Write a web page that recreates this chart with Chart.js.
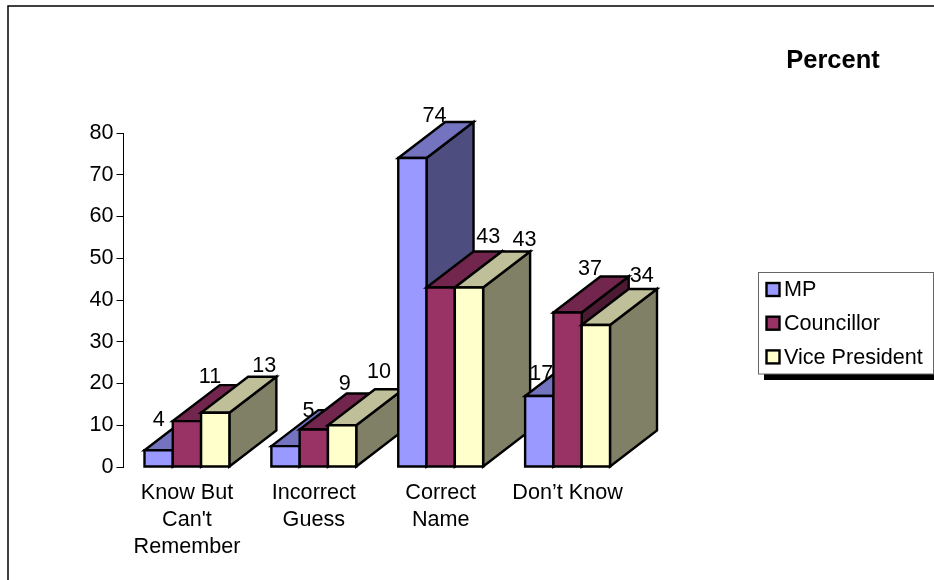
<!DOCTYPE html>
<html>
<head>
<meta charset="utf-8">
<title>Percent</title>
<script src="https://cdn.jsdelivr.net/npm/chart.js@4"></script>
<style>
  html, body { margin: 0; padding: 0; background: #fff; overflow: hidden; }
  canvas { display: block; }
</style>
</head>
<body>
<canvas id="awarenessChart" width="934" height="580"></canvas>
<script>
const categories = [["Know But", "Can't", "Remember"], ["Incorrect", "Guess"], ["Correct", "Name"], "Don’t Know"];
const mpValues = [4, 5, 74, 17];
const councillorValues = [11, 9, 43, 37];
const vicePresidentValues = [13, 10, 43, 34];
const yTicks = [0, 10, 20, 30, 40, 50, 60, 70, 80];

const fontFamily = "'Liberation Sans', Arial, sans-serif";
const labelSize = 21.6;
const depthX = 47;
const depthY = 36;

// front, top and side shades for each series
const mpColors = ["#9999FF", "#7373BF", "#4D4D80"];
const councillorColors = ["#993366", "#73264D", "#4D1A33"];
const vicePresidentColors = ["#FFFFCC", "#BFBF99", "#808066"];

// value labels sit loosely around the box tops, offset from front centre and top edge
const labelOffsets = [
  [[0, -30], [23, -35.5], [22, -42.5], [2, -22]],
  [[23, -44.5], [31, -45], [47.5, -50], [22.5, -43.5]],
  [[49, -47], [37, -53], [55.5, -47.5], [46, -49]]
];

function drawFace(ctx, points, color) {
  ctx.beginPath();
  ctx.moveTo(points[0][0], points[0][1]);
  points.slice(1).forEach(p => ctx.lineTo(p[0], p[1]));
  ctx.closePath();
  ctx.fillStyle = color;
  ctx.fill();
  ctx.stroke();
}

// boxes have to be painted category by category, left to right, so nearer ones cover the rest
const boxPlugin = {
  id: "boxes",
  afterDatasetsDraw(chart) {
    const ctx = chart.ctx;
    ctx.save();
    ctx.strokeStyle = "#000";
    ctx.lineWidth = 2.4;
    ctx.lineJoin = "miter";
    categories.forEach((cat, i) => {
      chart.data.datasets.forEach((ds, d) => {
        const bar = chart.getDatasetMeta(d).data[i];
        const left = bar.x - bar.width / 2;
        const right = bar.x + bar.width / 2;
        const top = bar.y;
        const base = bar.base;
        drawFace(ctx, [[right, top], [right + depthX, top - depthY], [right + depthX, base - depthY], [right, base]], ds.shades[2]);
        drawFace(ctx, [[left, top], [left + depthX, top - depthY], [right + depthX, top - depthY], [right, top]], ds.shades[1]);
        drawFace(ctx, [[left, top], [right, top], [right, base], [left, base]], ds.shades[0]);
      });
    });

    ctx.fillStyle = "#000";
    ctx.font = labelSize + "px " + fontFamily;
    ctx.textAlign = "center";
    ctx.textBaseline = "middle";
    chart.data.datasets.forEach((ds, d) => {
      chart.getDatasetMeta(d).data.forEach((bar, i) => {
        const off = labelOffsets[d][i];
        ctx.fillText(ds.data[i], bar.x + off[0], bar.y + off[1]);
      });
    });
    ctx.restore();
  }
};

const framePlugin = {
  id: "frame",
  beforeDraw(chart) {
    const ctx = chart.ctx;
    ctx.save();
    ctx.strokeStyle = "#000";
    ctx.lineWidth = 1.5;
    ctx.beginPath();
    ctx.moveTo(8, 580);
    ctx.lineTo(8, 6);
    ctx.lineTo(934, 6);
    ctx.stroke();
    ctx.restore();
  },
  afterDraw(chart) {
    const ctx = chart.ctx;
    ctx.save();

    ctx.fillStyle = "#000";
    ctx.font = "bold 25.5px " + fontFamily;
    ctx.textAlign = "center";
    ctx.textBaseline = "middle";
    ctx.fillText("Percent", 833, 61);

    // legend box with its drop shadow
    ctx.fillStyle = "#000";
    ctx.fillRect(764, 279, 170, 101);
    ctx.fillStyle = "#fff";
    ctx.strokeStyle = "#666";
    ctx.lineWidth = 1;
    ctx.fillRect(758.5, 272.5, 175, 101.5);
    ctx.strokeRect(758.5, 272.5, 175, 101.5);

    ctx.font = labelSize + "px " + fontFamily;
    ctx.textAlign = "left";
    chart.data.datasets.forEach((ds, d) => {
      const rowY = 289.5 + d * 33.7;
      ctx.fillStyle = ds.shades[0];
      ctx.strokeStyle = "#000";
      ctx.lineWidth = 2.4;
      ctx.fillRect(766.5, rowY - 6.5, 13, 13);
      ctx.strokeRect(766.5, rowY - 6.5, 13, 13);
      ctx.fillStyle = "#000";
      ctx.fillText(ds.label, 784, rowY + 1);
    });
    ctx.restore();
  }
};

function makeDataset(label, values, shades) {
  return {
    label: label,
    data: values,
    shades: shades,
    backgroundColor: shades[0],
    borderWidth: 0,
    barPercentage: 1,
    categoryPercentage: 0.669
  };
}

new Chart(document.getElementById("awarenessChart").getContext("2d"), {
  type: "bar",
  data: {
    labels: categories,
    datasets: [
      makeDataset("MP", mpValues, mpColors),
      makeDataset("Councillor", councillorValues, councillorColors),
      makeDataset("Vice President", vicePresidentValues, vicePresidentColors)
    ]
  },
  options: {
    responsive: false,
    animation: false,
    layout: { padding: { left: 0, right: 303, top: 133, bottom: 0 } },
    plugins: {
      legend: { display: false },
      tooltip: { enabled: false }
    },
    scales: {
      x: {
        afterFit(scale) { scale.height = 113; },
        grid: { display: false },
        border: { display: false },
        ticks: {
          color: "#000",
          maxRotation: 0,
          autoSkip: false,
          padding: 5,
          font: { family: fontFamily, size: labelSize, lineHeight: 1.25 }
        }
      },
      y: {
        min: 0,
        max: 80,
        afterFit(scale) { scale.width = 123.5; },
        afterBuildTicks(scale) { scale.ticks = yTicks.map(v => ({ value: v })); },
        border: { display: true, color: "#000", width: 1 },
        grid: { drawOnChartArea: false, drawTicks: true, tickLength: 7, color: "#000" },
        ticks: {
          color: "#000",
          padding: 3,
          font: { family: fontFamily, size: labelSize }
        }
      }
    }
  },
  plugins: [framePlugin, boxPlugin]
});
</script>
</body>
</html>
